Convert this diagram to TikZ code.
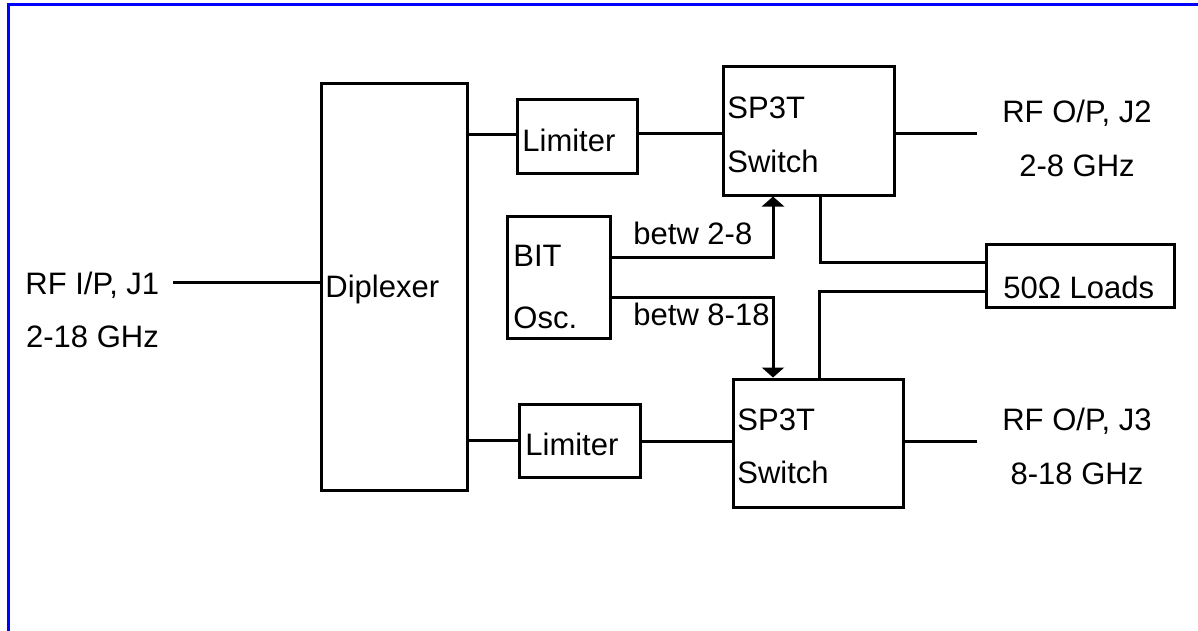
\documentclass[tikz,border=0pt]{standalone}
\usepackage{fontspec}
\setmainfont{Liberation Sans}
\usetikzlibrary{arrows.meta}
\begin{document}
\begin{tikzpicture}[x=0.5pt,y=-0.5pt,
  box/.style={draw=black,line width=1.5pt,inner sep=0pt,minimum width=#1},
  lbl/.style={inner sep=0pt,anchor=base west,font=\fontsize{15.5}{18}\selectfont},
  clbl/.style={inner sep=0pt,anchor=base,font=\fontsize{15.5}{18}\selectfont},
  wire/.style={line width=1.5pt},
  arr/.style={line width=1.5pt,-{Triangle[width=11pt,length=5pt]}},
  frame/.style={draw=blue,line width=1.5pt}]
\useasboundingbox (0,0) rectangle (1198,631);
\draw[frame] (8.5,631) -- (8.5,4.5) -- (1198,4.5);
% boxes
\node[box=73pt,minimum height=203pt] (dip) at (394,287) {};
\node[box=60pt,minimum height=36.5pt] (lim1) at (577,136.5) {};
\node[box=60.5pt,minimum height=36.5pt] (lim2) at (579.5,440.5) {};
\node[box=85.5pt,minimum height=64pt] (sw1) at (808.5,131) {};
\node[box=85pt,minimum height=64pt] (sw2) at (818,443) {};
\node[box=51.5pt,minimum height=61pt] (bit) at (558.5,277) {};
\node[box=94pt,minimum height=31.5pt] (loads) at (1080,275.5) {};
% labels
\node[lbl] (tin) at (25,294) {RF I/P, J1};
\node[clbl] (tin2) at (92.5,347) {2-18 GHz};
\node[lbl] (tdip) at (325,297) {Diplexer};
\node[lbl] (tlim1) at (522,151) {Limiter};
\node[lbl] (tlim2) at (525,455) {Limiter};
\node[lbl] (tsw1a) at (727,119) {SP3T};
\node[lbl] (tsw1b) at (727,172) {Switch};
\node[lbl] (tsw2a) at (737,430) {SP3T};
\node[lbl] (tsw2b) at (737,483) {Switch};
\node[lbl] (tbita) at (513,266) {BIT};
\node[lbl] (tbitb) at (513,328) {Osc.};
\node[lbl] (tb1) at (633,244) {betw 2-8};
\node[lbl] (tb2) at (633,325) {betw 8-18};
\node[lbl] (tload) at (1003,298) {50Ω Loads};
\node[clbl] (to1a) at (1077,122) {RF O/P, J2};
\node[clbl] (to1b) at (1077,176) {2-8 GHz};
\node[clbl] (to2a) at (1077,430) {RF O/P, J3};
\node[clbl] (to2b) at (1077,484) {8-18 GHz};
% coordinates
\coordinate (inend) at (173,282);
\coordinate (o1) at (977,133);
\coordinate (o2) at (977,441);
\coordinate (a1) at (773,257);
\coordinate (a2) at (773,297);
\coordinate (l1) at (820,262);
\coordinate (l2) at (819,291);
% wires
\draw[wire] (inend) -- (dip.west |- inend);
\draw[wire] (dip.east |- 0,134) -- (lim1.west |- 0,134);
\draw[wire] (lim1.east |- 0,133) -- (sw1.west |- 0,133);
\draw[wire] (sw1.east |- o1) -- (o1);
\draw[wire] (dip.east |- 0,440) -- (lim2.west |- 0,440);
\draw[wire] (lim2.east |- 0,441) -- (sw2.west |- 0,441);
\draw[wire] (sw2.east |- o2) -- (o2);
\draw[arr] (bit.east |- a1) -| (sw1.south -| a1);
\draw[arr] (bit.east |- a2) -| (sw2.north -| a2);
\draw[wire] (sw1.south -| l1) |- (loads.west |- l1);
\draw[wire] (sw2.north -| l2) |- (loads.west |- l2);
\end{tikzpicture}
\end{document}
